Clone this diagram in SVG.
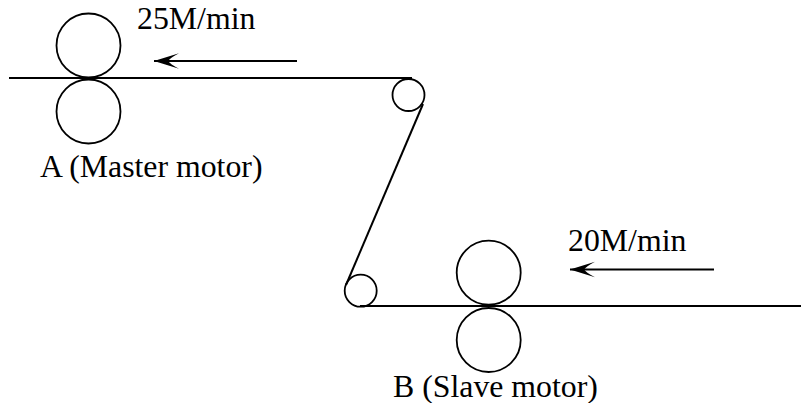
<svg xmlns="http://www.w3.org/2000/svg" width="801" height="403" viewBox="0 0 801 403">
<style>
.r{fill:none;stroke:#000;stroke-width:1.8}
.l{fill:none;stroke:#000;stroke-width:2}
.t{font-family:"Liberation Serif","Times New Roman",serif;font-size:31.8px;fill:#000}
</style>
<defs>
<marker id="a" markerUnits="userSpaceOnUse" markerWidth="28" markerHeight="18" refX="26" refY="9" orient="auto">
<path d="M26 9L1 1.200Q10 6 12 9Q10 12 1 16.800Z" fill="#000"/>
</marker>
</defs>
<rect width="801" height="403" fill="#fff"/>
<g id="connectors">
<path class="l" d="M9 78H412"/>
<path class="l" d="M423 104L346 285"/>
<path class="l" d="M360 306H801"/>
<path class="l" d="M297 61H154" marker-end="url(#a)"/>
<path class="l" d="M714 269.500H570" marker-end="url(#a)"/>
</g>
<g id="roller-a-top"><circle class="r" cx="88.500" cy="45.500" r="32"/></g>
<g id="roller-a-bottom"><circle class="r" cx="88.500" cy="111.500" r="32"/></g>
<g id="idler-top"><circle class="r" cx="408.500" cy="95" r="16"/></g>
<g id="idler-bottom"><circle class="r" cx="360.700" cy="290.700" r="16"/></g>
<g id="roller-b-top"><circle class="r" cx="488.700" cy="272.700" r="32"/></g>
<g id="roller-b-bottom"><circle class="r" cx="488.700" cy="340" r="32"/></g>
<g id="labels">
<text class="t" x="137" y="29">25M/min</text>
<text class="t" x="40" y="176.500">A (Master motor)</text>
<text class="t" x="568" y="250.500">20M/min</text>
<text class="t" x="393" y="396.500">B (Slave motor)</text>
</g>
</svg>
